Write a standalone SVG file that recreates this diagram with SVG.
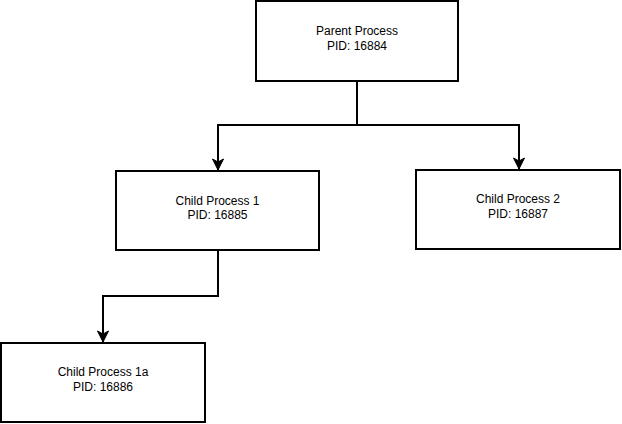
<svg xmlns="http://www.w3.org/2000/svg" width="622" height="424" viewBox="0 0 622 424">
<style>
.box{fill:#fff;stroke:#000;stroke-width:2}
.lbl{font-family:"Liberation Sans",Arial,sans-serif;font-size:12px;fill:#000;text-anchor:middle}
.edge{fill:none;stroke:#000;stroke-width:2}
</style>
<defs>
<marker id="arr" markerUnits="userSpaceOnUse" markerWidth="14" markerHeight="14" viewBox="0 0 14 14" refX="7" refY="13" orient="0">
<path d="M1.5,2 L7,13 L12.5,2 L7,5 Z" fill="#000" stroke="#000" stroke-width="1"/>
</marker>
</defs>
<rect width="622" height="424" fill="#fff"/>
<g id="connectors">
<path class="edge" d="M357,81 V125 H218 V170" marker-end="url(#arr)"/>
<path class="edge" d="M357,125 H519 V169" marker-end="url(#arr)"/>
<path class="edge" d="M218,251 V296 H103 V342" marker-end="url(#arr)"/>
</g>
<g id="parent">
<rect class="box" x="256" y="1" width="202" height="80"/>
<text class="lbl" x="357" y="35">Parent Process</text>
<text class="lbl" x="357" y="50">PID: 16884</text>
</g>
<g id="child1">
<rect class="box" x="116" y="171" width="203" height="79"/>
<text class="lbl" x="217.5" y="205">Child Process 1</text>
<text class="lbl" x="217.5" y="219">PID: 16885</text>
</g>
<g id="child2">
<rect class="box" x="416" y="170" width="204" height="79"/>
<text class="lbl" x="518" y="203">Child Process 2</text>
<text class="lbl" x="518" y="218">PID: 16887</text>
</g>
<g id="child1a">
<rect class="box" x="1" y="343" width="204" height="79"/>
<text class="lbl" x="103" y="376">Child Process 1a</text>
<text class="lbl" x="103" y="391">PID: 16886</text>
</g>
</svg>
